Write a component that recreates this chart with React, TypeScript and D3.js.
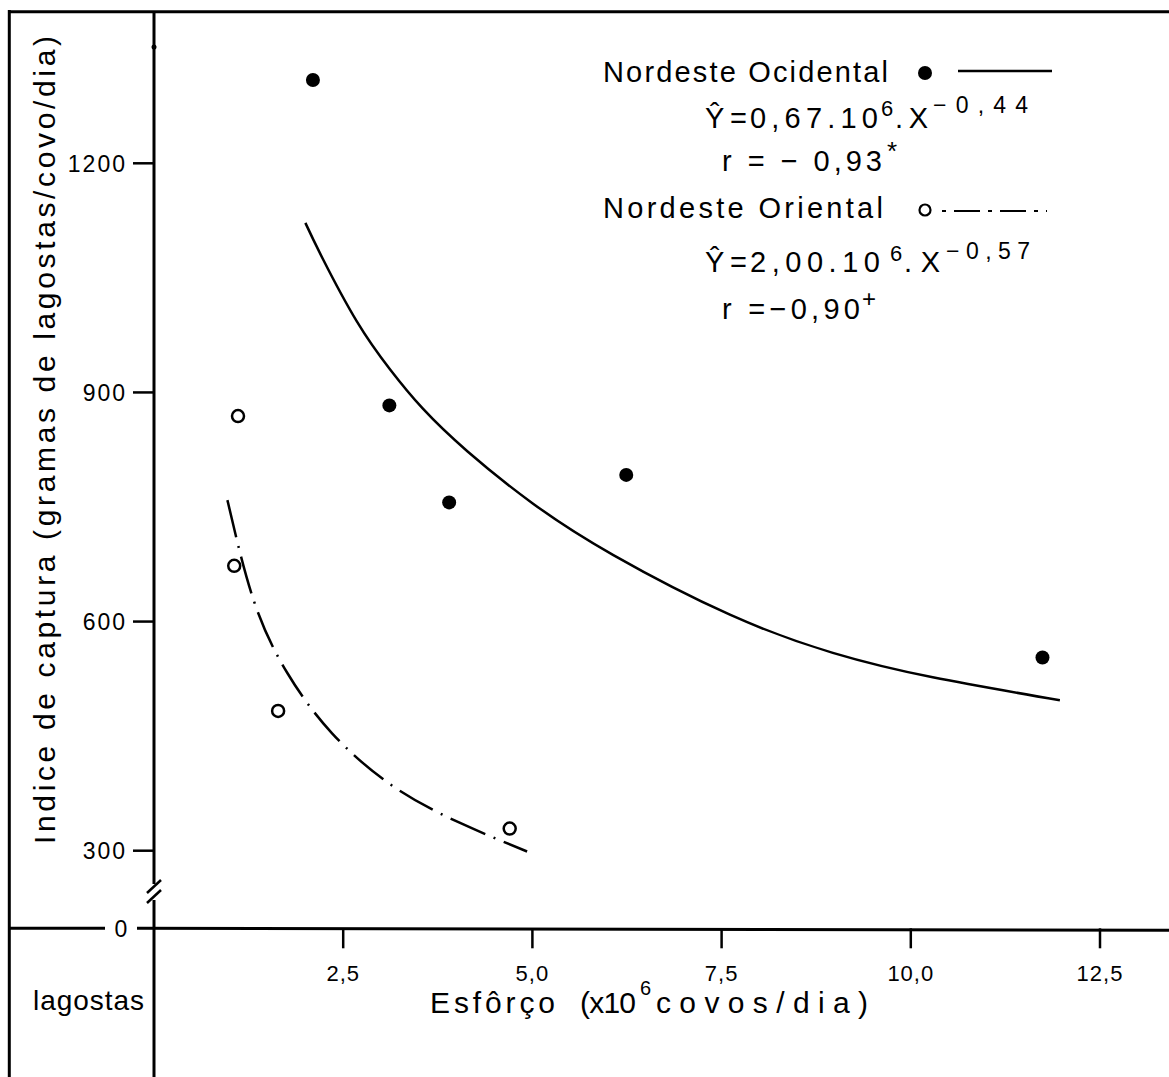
import * as d3 from "d3";
import React from "react";

// valores
const ocidX = [2.1, 3.11, 3.9, 6.24, 11.74];
const ocidY = [1309, 883, 756, 792, 553];
const orienX = [1.11, 1.06, 1.64, 4.7];
const orienY = [869, 673, 483, 329];

// curvas ajustadas
const ocidFitX = [2.0, 2.23, 2.68, 3.12, 3.55, 4.14, 5.0, 6.07, 7.61, 8.97, 10.29, 11.97];
const ocidFitY = [1122, 1075, 993, 930, 879, 823, 755, 687, 609, 559, 527, 497];
const orienFitX = [0.97, 1.32, 1.76, 2.35, 3.15, 4.03, 4.93];
const orienFitY = [759, 627, 533, 454, 385, 337, 297];

const xTicks = [2.5, 5.0, 7.5, 10.0, 12.5];
const yTicks = [300, 600, 900, 1200];

const W = 1169;
const H = 1077;
const FONT = "'Liberation Sans', Arial, sans-serif";

export default function App() {
  const x = d3.scaleLinear().domain([0, 12.5]).range([154, 1100]);
  // escala quebrada: 0 -> 300 comprimido
  const y = d3.scaleLinear().domain([0, 300, 1200]).range([928.3, 850.7, 163.3]);

  const ocidPath = d3
    .line<number>()
    .x((_, i) => x(ocidFitX[i]))
    .y((d) => y(d))
    .curve(d3.curveNatural)(ocidFitY);
  const orienPath = d3
    .line<number>()
    .x((_, i) => x(orienFitX[i]))
    .y((d) => y(d))
    .curve(d3.curveNatural)(orienFitY);

  const x0 = x(0);
  const yBase = y(0);

  return (
    <svg
      width={W}
      height={H}
      style={{ position: "absolute", left: 0, top: 0, background: "#fff" }}
      fontFamily={FONT}
    >
      <rect width={W} height={H} fill="#fff" />
      {/* moldura */}
      <line x1={9} y1={11.7} x2={W} y2={11.7} stroke="#000" strokeWidth={3} />
      <line x1={9.3} y1={10} x2={9.3} y2={H} stroke="#000" strokeWidth={3} />

      {/* eixo y */}
      <line x1={x0} y1={11} x2={x0} y2={884} stroke="#000" strokeWidth={3} />
      <line x1={x0} y1={900} x2={x0} y2={H} stroke="#000" strokeWidth={3} />
      <line x1={147} y1={893} x2={161} y2={880} stroke="#000" strokeWidth={2.5} />
      <line x1={147} y1={903} x2={161} y2={890} stroke="#000" strokeWidth={2.5} />
      <circle cx={x0} cy={47} r={2.5} fill="#000" />

      {yTicks.map((t) => (
        <g key={t}>
          <line x1={133} y1={y(t)} x2={x0} y2={y(t)} stroke="#000" strokeWidth={2.5} />
          <text x={127} y={y(t) + 8.5} textAnchor="end" fontSize={23} letterSpacing={2}>
            {t}
          </text>
        </g>
      ))}

      {/* eixo x */}
      <line x1={9} y1={yBase} x2={105} y2={yBase} stroke="#000" strokeWidth={3} />
      <line x1={137} y1={yBase} x2={W} y2={yBase + 2} stroke="#000" strokeWidth={3} />
      <text x={121} y={yBase + 8.5} textAnchor="middle" fontSize={23}>
        0
      </text>
      {xTicks.map((t) => (
        <g key={t}>
          <line x1={x(t)} y1={yBase} x2={x(t)} y2={yBase + 20} stroke="#000" strokeWidth={2.5} />
          <text x={x(t)} y={yBase + 53} textAnchor="middle" fontSize={22} letterSpacing={1}>
            {t.toFixed(1).replace(".", ",")}
          </text>
        </g>
      ))}

      {/* títulos dos eixos */}
      <text
        transform="translate(55, 440) rotate(-90)"
        textAnchor="middle"
        fontSize={30}
        textLength={808}
        lengthAdjust="spacing"
      >
        Indice de captura (gramas de lagostas/covo/dia)
      </text>
      <text x={33} y={1010} fontSize={28} textLength={111} lengthAdjust="spacing">
        lagostas
      </text>
      <text x={430} y={1013} fontSize={30}>
        <tspan textLength={125} lengthAdjust="spacing">Esfôrço</tspan>
        <tspan x={580} textLength={56} lengthAdjust="spacing">(x10</tspan>
        <tspan x={640} y={995} fontSize={20}>
          6
        </tspan>
        <tspan x={656} y={1013} textLength={212} lengthAdjust="spacing">
          covos/dia)
        </tspan>
      </text>

      {/* curvas */}
      <path d={ocidPath || ""} fill="none" stroke="#000" strokeWidth={2.5} />
      <path
        d={orienPath || ""}
        fill="none"
        stroke="#000"
        strokeWidth={2.5}
        strokeDasharray="38 9 2 9"
      />

      {/* pontos */}
      {ocidX.map((v, i) => (
        <circle key={"o" + i} cx={x(v)} cy={y(ocidY[i])} r={7} fill="#000" />
      ))}
      {orienX.map((v, i) => (
        <circle
          key={"r" + i}
          cx={x(v)}
          cy={y(orienY[i])}
          r={6}
          fill="#fff"
          stroke="#000"
          strokeWidth={2.5}
        />
      ))}

      {/* legenda */}
      <g fontSize={29}>
        <text x={603} y={82} textLength={285} lengthAdjust="spacing">
          Nordeste Ocidental
        </text>
        <circle cx={925} cy={73} r={7} fill="#000" />
        <line x1={958} y1={71} x2={1052} y2={71} stroke="#000" strokeWidth={2.5} />

        <text x={705} y={128}>
          <tspan textLength={42} lengthAdjust="spacing">Ŷ=</tspan>
          <tspan x={750} textLength={128} lengthAdjust="spacing">0,67.10</tspan>
          <tspan x={881} y={116} fontSize={22}>6</tspan>
          <tspan x={895} y={128} textLength={33} lengthAdjust="spacing">.X</tspan>
          <tspan x={933} y={113} fontSize={23} textLength={95} lengthAdjust="spacing">
            −0,44
          </tspan>
        </text>
        <text x={722} y={171}>
          <tspan textLength={160} lengthAdjust="spacing">r = − 0,93</tspan>
          <tspan x={887} y={160} fontSize={26}>*</tspan>
        </text>

        <text x={603} y={218} textLength={280} lengthAdjust="spacing">
          Nordeste Oriental
        </text>
        <circle cx={925} cy={210} r={5.5} fill="#fff" stroke="#000" strokeWidth={2.2} />
        <line
          x1={942}
          y1={211}
          x2={1047}
          y2={211}
          stroke="#000"
          strokeWidth={2}
          strokeDasharray="4 8 26 8"
        />

        <text x={705} y={272}>
          <tspan textLength={42} lengthAdjust="spacing">Ŷ=</tspan>
          <tspan x={750} textLength={130} lengthAdjust="spacing">2,00.10</tspan>
          <tspan x={890} y={261} fontSize={22}>6</tspan>
          <tspan x={904} y={272} textLength={36} lengthAdjust="spacing">.X</tspan>
          <tspan x={946} y={259} fontSize={23} textLength={84} lengthAdjust="spacing">
            −0,57
          </tspan>
        </text>
        <text x={722} y={319}>
          <tspan textLength={138} lengthAdjust="spacing">r =−0,90</tspan>
          <tspan x={862} y={307} fontSize={24}>+</tspan>
        </text>
      </g>
    </svg>
  );
}
